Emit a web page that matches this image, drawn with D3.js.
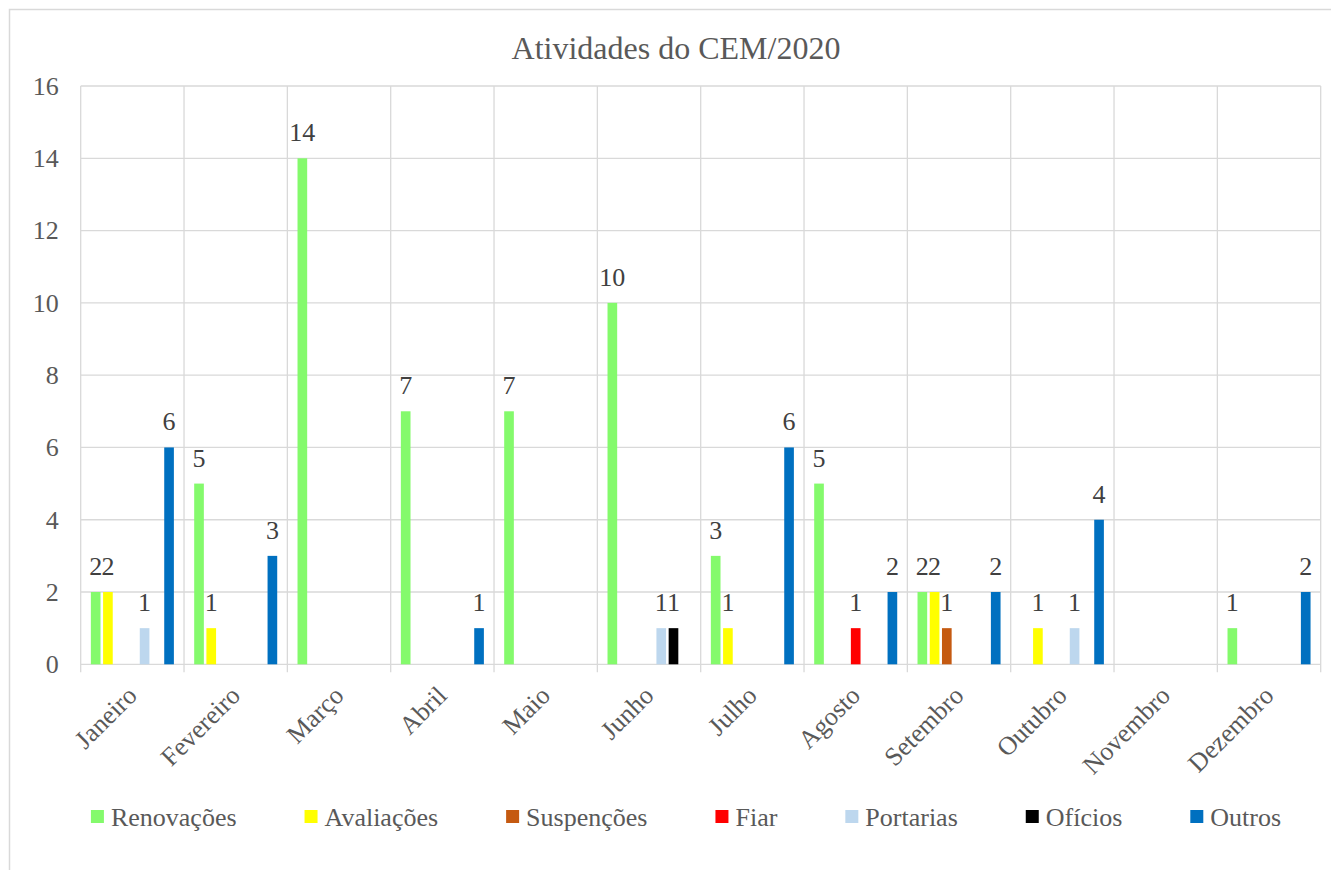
<!DOCTYPE html>
<html>
<head>
<meta charset="utf-8">
<script src="https://cdn.jsdelivr.net/npm/d3@7"></script>
<style>
  html, body { margin: 0; padding: 0; background: #fff; }
  svg { display: block; }
</style>
</head>
<body>
<div id="chart"></div>
<script>
const months = ['Janeiro', 'Fevereiro', 'Março', 'Abril', 'Maio', 'Junho',
  'Julho', 'Agosto', 'Setembro', 'Outubro', 'Novembro', 'Dezembro'];
const seriesNames = ['Renovações', 'Avaliações', 'Suspenções', 'Fiar', 'Portarias', 'Ofícios', 'Outros'];
const seriesColors = ['#84fa6c', '#ffff00', '#c55a11', '#ff0000', '#bdd7ee', '#000000', '#0070c0'];

const renovacoes = [2, 5, 14, 7, 7, 10, 3, 5, 2, 0, 0, 1];
const avaliacoes = [2, 1, 0, 0, 0, 0, 1, 0, 2, 1, 0, 0];
const suspencoes = [0, 0, 0, 0, 0, 0, 0, 0, 1, 0, 0, 0];
const fiar       = [0, 0, 0, 0, 0, 0, 0, 1, 0, 0, 0, 0];
const portarias  = [1, 0, 0, 0, 0, 1, 0, 0, 0, 1, 0, 0];
const oficios    = [0, 0, 0, 0, 0, 1, 0, 0, 0, 0, 0, 0];
const outros     = [6, 3, 0, 1, 0, 0, 6, 2, 2, 4, 0, 2];
const yTicks = [0, 2, 4, 6, 8, 10, 12, 14, 16];

const seriesValues = [renovacoes, avaliacoes, suspencoes, fiar, portarias, oficios, outros];

const W = 1331, H = 870;
const plot = { left: 80.7, right: 1320.7, top: 86, bottom: 664.3 };
const grid = '#d9d9d9';
const textColor = '#595959';
const serif = "'Liberation Serif', 'Times New Roman', serif";

const svg = d3.select('#chart').append('svg')
  .attr('width', W).attr('height', H)
  .attr('font-family', serif);

// chart border (runs past the window on the right and bottom)
svg.append('rect')
  .attr('x', 9.5).attr('y', 9.5)
  .attr('width', 1400).attr('height', 1000)
  .attr('fill', '#fff').attr('stroke', grid).attr('stroke-width', 1.5);

const x0 = d3.scaleBand().domain(months).range([plot.left, plot.right]).padding(0);
const x1 = d3.scaleBand().domain(seriesNames).range([0, x0.bandwidth()])
  .paddingInner(0.21).paddingOuter(0.83);
const y = d3.scaleLinear().domain([0, 16]).range([plot.bottom, plot.top]);

// horizontal gridlines
svg.append('g').selectAll('line').data(yTicks).join('line')
  .attr('x1', plot.left).attr('x2', plot.right)
  .attr('y1', d => y(d)).attr('y2', d => y(d))
  .attr('stroke', grid).attr('stroke-width', 1.3);

// vertical gridlines at category boundaries, with ticks below axis
const bounds = months.map(m => x0(m)).concat([plot.right]);
svg.append('g').selectAll('line').data(bounds).join('line')
  .attr('x1', d => d).attr('x2', d => d)
  .attr('y1', plot.top).attr('y2', plot.bottom + 8)
  .attr('stroke', grid).attr('stroke-width', 1.3);

// y tick labels
svg.append('g').selectAll('text').data(yTicks).join('text')
  .attr('x', plot.left - 22).attr('y', d => y(d))
  .attr('dy', '0.34em')
  .attr('text-anchor', 'end')
  .attr('font-size', 26).attr('fill', textColor)
  .text(d => d);

// x labels, rotated
svg.append('g').selectAll('text').data(months).join('text')
  .attr('transform', d => `translate(${x0(d) + x0.bandwidth() / 2},691) rotate(-45)`)
  .attr('dy', '0.33em')
  .attr('text-anchor', 'end')
  .attr('font-size', 26).attr('fill', textColor)
  .text(d => d);

// bars
const rows = [];
months.forEach((m, i) => {
  seriesNames.forEach((s, j) => {
    rows.push({ month: m, series: s, value: seriesValues[j][i], color: seriesColors[j] });
  });
});
const nonZero = rows.filter(r => r.value > 0);

svg.append('g').selectAll('rect').data(nonZero).join('rect')
  .attr('x', d => x0(d.month) + x1(d.series))
  .attr('y', d => y(d.value))
  .attr('width', x1.bandwidth())
  .attr('height', d => y(0) - y(d.value))
  .attr('fill', d => d.color);

// data labels
svg.append('g').selectAll('text').data(nonZero).join('text')
  .attr('x', d => x0(d.month) + x1(d.series) + x1.bandwidth() / 2)
  .attr('y', d => y(d.value) - 17)
  .attr('text-anchor', 'middle')
  .attr('font-size', 26).attr('fill', '#404040')
  .text(d => d.value);

// title
svg.append('text')
  .attr('x', 676).attr('y', 59)
  .attr('text-anchor', 'middle')
  .attr('font-size', 32).attr('fill', textColor)
  .text('Atividades do CEM/2020');

// legend
const legend = svg.append('g');
const items = legend.selectAll('g').data(seriesNames).join('g');
items.append('rect')
  .attr('width', 13).attr('height', 13)
  .attr('y', 810)
  .attr('fill', (d, i) => seriesColors[i]);
items.append('text')
  .attr('x', 20).attr('y', 826)
  .attr('font-size', 26).attr('fill', textColor)
  .text(d => d);

let cursor = 0;
const gap = 68;
items.each(function () {
  const w = d3.select(this).select('text').node().getComputedTextLength();
  d3.select(this).attr('transform', `translate(${cursor},0)`);
  cursor += 20 + w + gap;
});
const total = cursor - gap;
legend.attr('transform', `translate(${686 - total / 2},0)`);
</script>
</body>
</html>
